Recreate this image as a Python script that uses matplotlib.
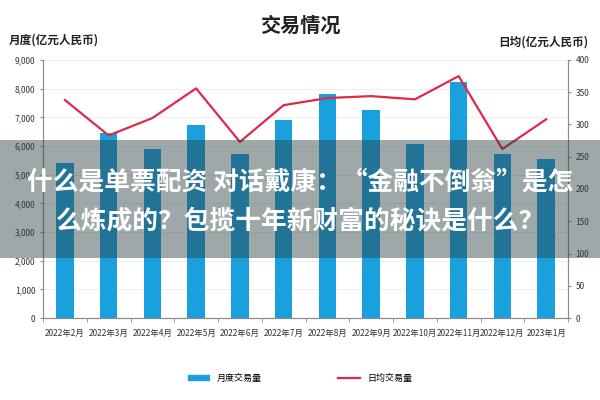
import numpy as np
import matplotlib
matplotlib.use('Agg')
import matplotlib.pyplot as plt
from matplotlib.patches import Rectangle
from matplotlib.ticker import FuncFormatter

plt.rcParams['font.family'] = ['Noto Sans CJK SC', 'DejaVu Sans']

months = ['2022年2月', '2022年3月', '2022年4月', '2022年5月', '2022年6月', '2022年7月',
          '2022年8月', '2022年9月', '2022年10月', '2022年11月', '2022年12月', '2023年1月']
monthly = [5400, 6470, 5900, 6750, 5710, 6900, 7830, 7240, 6070, 8250, 5730, 5540]  # 月度交易量
daily = [338, 283, 310, 356, 273, 330, 341, 344, 339, 375, 262, 308]  # 日均交易量

bar_color = '#1aa0dc'
line_color = '#e0284a'
axis_color = '#8c8c8c'

fig = plt.figure(figsize=(6, 4), dpi=100)
ax = fig.add_axes([0.0717, 0.205, 0.875, 0.645])
ax2 = ax.twinx()

x = np.arange(len(months))
ax.bar(x, monthly, width=0.4, color=bar_color, zorder=2)
ax2.plot(x, daily, color=line_color, lw=1.6, zorder=3)

ax.set_xlim(-0.5, len(months) - 0.5)
ax.set_ylim(0, 9000)
ax.set_yticks(range(0, 9001, 1000))
ax.yaxis.set_major_formatter(FuncFormatter(lambda v, p: f'{int(v):,}'))
ax2.set_ylim(0, 400)
ax2.set_yticks(range(0, 401, 50))

ax.set_xticks(x)
ax.set_xticklabels(months, fontsize=6, color='#333333')
ax.set_xticks(np.arange(-0.5, len(months)), minor=True)
ax.tick_params(axis='x', which='major', length=0, pad=8)
ax.tick_params(axis='x', which='minor', length=3, color=axis_color)
ax.tick_params(axis='y', labelsize=6, length=2, color=axis_color, labelcolor='#333333')
ax2.tick_params(axis='y', labelsize=6, length=2, color=axis_color, labelcolor='#333333')

ax.grid(axis='y', color='#eeeeee', lw=0.8, zorder=0)
ax.set_axisbelow(True)
for a in (ax, ax2):
    a.spines['top'].set_visible(False)
    for s in ('left', 'right', 'bottom'):
        a.spines[s].set_color(axis_color)
        a.spines[s].set_linewidth(0.8)

fig.text(0.5, 0.937, '交易情况', ha='center', va='center', fontsize=14.5, fontweight='bold', color='#222222')
fig.text(0.015, 0.9, '月度(亿元人民币)', ha='left', va='center', fontsize=8.4, fontweight='bold', color='#222222')
fig.text(0.98, 0.895, '日均(亿元人民币)', ha='right', va='center', fontsize=8.4, fontweight='bold', color='#222222')

h1 = Rectangle((0, 0), 1, 1, color=bar_color)
h2, = ax2.plot([], [], color=line_color, lw=1.6)
fig.legend([h1, h2], ['月度交易量', '日均交易量'], loc='center', bbox_to_anchor=(0.5, 0.055),
           ncol=2, frameon=False, fontsize=6.5, columnspacing=8.5, handlelength=2.4, handleheight=0.6)

# grey overlay band with headline text
fig.add_artist(Rectangle((0, 0.355), 1, 0.295, transform=fig.transFigure,
                         facecolor='#2a3f3f', alpha=0.45, edgecolor='none', zorder=5))
fig.text(0.5, 0.545, '什么是单票配资 对话戴康：“金融不倒翁”是怎', ha='center', va='center',
         fontsize=18.5, fontweight='bold', color='white', zorder=6)
fig.text(0.5, 0.445, '么炼成的？包揽十年新财富的秘诀是什么？', ha='center', va='center',
         fontsize=18.5, fontweight='bold', color='white', zorder=6)

fig.savefig('out.png', dpi=100)
